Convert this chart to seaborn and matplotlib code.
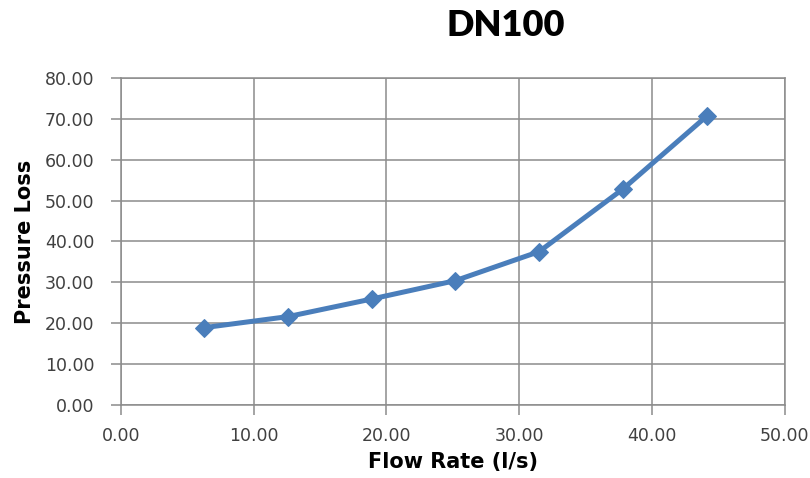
import numpy as np
import pandas as pd
import seaborn as sns
import matplotlib as mpl
mpl.use('Agg')
import matplotlib.pyplot as plt

# data
flow_rate = [6.3, 12.6, 18.9, 25.2, 31.5, 37.8, 44.1]
pressure_loss = [18.9, 21.6, 25.9, 30.4, 37.5, 52.8, 70.6]
x_ticks = [0, 10, 20, 30, 40, 50]
y_ticks = [0, 10, 20, 30, 40, 50, 60, 70, 80]

sns.set_style('whitegrid')
plt.rcParams['font.family'] = ['DejaVu Sans']

df = pd.DataFrame({'Flow Rate (l/s)': flow_rate, 'Pressure Loss': pressure_loss})

fig = plt.figure(figsize=(8.1, 4.78), dpi=100)
ax = fig.add_axes([0.149, 0.153, 0.82, 0.684])

sns.lineplot(data=df, x='Flow Rate (l/s)', y='Pressure Loss', ax=ax,
             color='#4a7ebb', linewidth=3.6, marker='D', markersize=9,
             markeredgecolor='#4a7ebb')

ax.set_xlim(0, 50)
ax.set_ylim(0, 80)
ax.set_xticks(x_ticks)
ax.set_yticks(y_ticks)
ax.set_xticklabels(['%.2f' % v for v in x_ticks])
ax.set_yticklabels(['%.2f' % v for v in y_ticks])

gridc = '#8c8c8c'
ax.grid(True, color=gridc, linewidth=1.1)
for s in ax.spines.values():
    s.set_color(gridc)
    s.set_linewidth(1.1)
ax.tick_params(axis='both', which='major', bottom=True, left=True,
               direction='out', length=7, width=1.1, color=gridc,
               labelsize=12.5, labelcolor='#404040')
ax.tick_params(axis='x', pad=9)
ax.tick_params(axis='y', pad=12)

ax.set_xlabel('Flow Rate (l/s)', fontsize=15, fontweight='heavy',
              color='black', labelpad=5)
ax.set_ylabel('Pressure Loss', fontsize=15, fontweight='heavy',
              color='black', labelpad=7)

fig.text(0.624, 0.947, 'DN100', fontsize=26, fontweight='heavy',
         family=['Lato', 'DejaVu Sans'], ha='center', va='center',
         color='black')

plt.savefig('out.png', dpi=100)
